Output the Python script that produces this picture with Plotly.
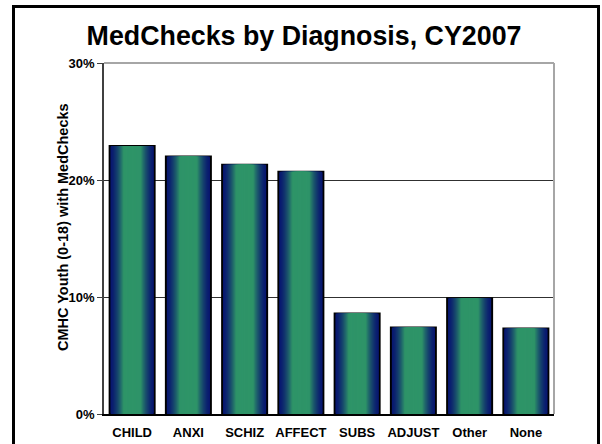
import plotly.graph_objects as go

# values (% of CMHC youth with MedChecks)
categories = ["CHILD", "ANXI", "SCHIZ", "AFFECT", "SUBS", "ADJUST", "Other", "None"]
pct_medchecks = [22.9, 22.0, 21.3, 20.7, 8.6, 7.4, 9.9, 7.3]
y_ticks = [0, 10, 20, 30]
y_tick_labels = ["0%", "10%", "20%", "30%"]

FONT = "Arial, Liberation Sans, sans-serif"
NAVY = (8, 22, 112)
GREEN = (46, 148, 104)

W, H = 602, 444
L, R, T, B = 104, 48, 63, 30


def mix(a, b, t):
    return "rgb(%d,%d,%d)" % tuple(round(a[i] + (b[i] - a[i]) * t) for i in range(3))


fig = go.Figure()

# fake a horizontal gradient: stack narrower bars on top, fading navy -> green
n_layers = 22
for k in range(n_layers):
    width = 0.8 * (1 - k / n_layers)
    t = min(1.0, k / (n_layers * 0.6)) ** 1.6
    fig.add_trace(go.Bar(
        x=categories, y=pct_medchecks,
        width=width,
        marker=dict(color=mix(NAVY, GREEN, t),
                    line=dict(color="black", width=2 if k == 0 else 0)),
        showlegend=False, hoverinfo="skip" if k else "x+y",
    ))

pw = W - L - R
ph = H - T - B


def px_x(x):
    return (x - L) / pw


def px_y(y):
    return (H - B - y) / ph


fig.update_layout(
    width=W, height=H,
    margin=dict(l=L, r=R, t=T, b=B),
    barmode="overlay",
    plot_bgcolor="white", paper_bgcolor="white",
    font=dict(family=FONT, color="black"),
    title=dict(text="MedChecks by Diagnosis, CY2007",
               font=dict(size=26.8, weight="bold", family=FONT),
               x=0.505, xanchor="center", y=1 - 36 / H, yanchor="middle"),
    xaxis=dict(showline=True, linecolor="black", linewidth=1.5,
               showgrid=False, ticks="", ticklabelstandoff=6,
               automargin=False,
               tickfont=dict(size=13, weight="bold")),
    yaxis=dict(range=[0, 30], tickvals=y_ticks, ticktext=y_tick_labels,
               showline=True, linecolor="#404040", linewidth=1.5,
               ticks="outside", ticklen=5, tickcolor="#404040",
               showgrid=True, gridcolor="#303030", gridwidth=1,
               zeroline=False, automargin=False,
               tickfont=dict(size=13, weight="bold")),
    shapes=[
        # gray top and right frame of the plot area
        dict(type="line", xref="paper", yref="paper", x0=0, x1=1, y0=1, y1=1,
             line=dict(color="#a6a6a6", width=2)),
        dict(type="line", xref="paper", yref="paper", x0=1, x1=1, y0=0, y1=1,
             line=dict(color="#a6a6a6", width=2)),
        # black outer border of the slide
        dict(type="rect", xref="paper", yref="paper",
             x0=px_x(13.5), x1=px_x(598.5), y0=px_y(470), y1=px_y(6.5),
             line=dict(color="black", width=3)),
    ],
    annotations=[
        dict(text="CMHC Youth (0-18) with MedChecks", textangle=-90,
             xref="paper", yref="paper", x=px_x(63), y=px_y(227),
             xanchor="center", yanchor="middle", showarrow=False,
             font=dict(size=14.5, weight="bold", family=FONT)),
    ],
)

# drop the browser's default body margin so the figure sits at (0, 0)
fig.write_html("out.html",
               config={"displayModeBar": False},
               post_script="document.body.style.margin='0';"
                           "document.body.style.overflow='hidden';")
